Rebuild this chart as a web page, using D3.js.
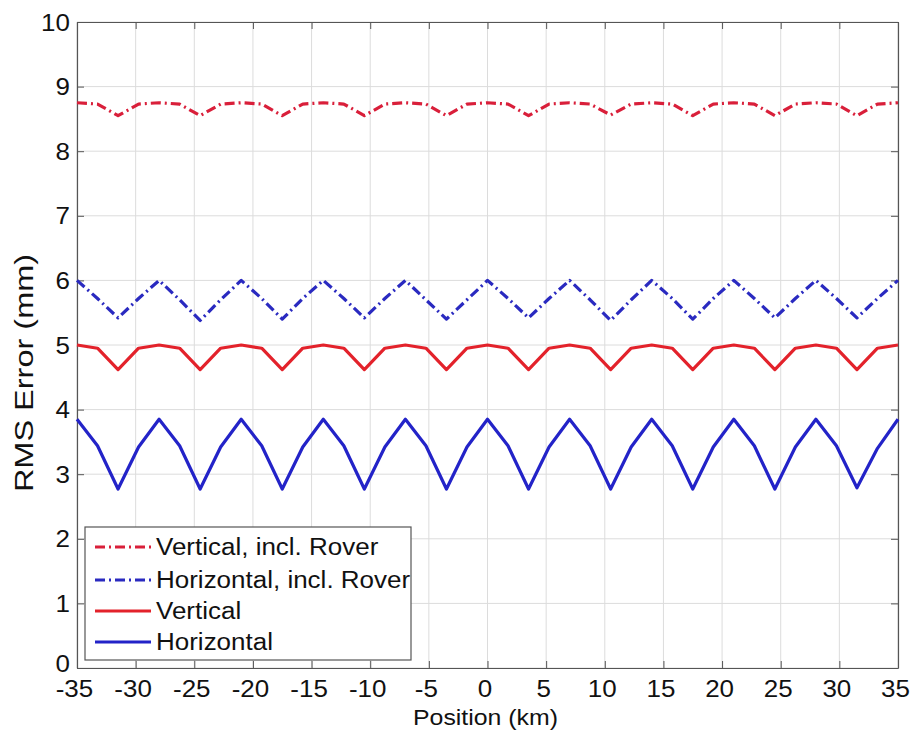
<!DOCTYPE html>
<html>
<head>
<meta charset="utf-8">
<script src="https://cdn.jsdelivr.net/npm/d3@7"></script>
<style>
  html, body { margin: 0; padding: 0; background: #fff; }
  text { font-family: "Liberation Sans", Arial, sans-serif; fill: #111; }
</style>
</head>
<body>
<svg id="chart" width="914" height="733"></svg>
<script>
// ---- data ----
const positions = [-35,-33.25,-31.5,-29.75,-28,-26.25,-24.5,-22.75,-21,-19.25,-17.5,-15.75,-14,-12.25,-10.5,-8.75,-7,-5.25,-3.5,-1.75,0,1.75,3.5,5.25,7,8.75,10.5,12.25,14,15.75,17.5,19.25,21,22.75,24.5,26.25,28,29.75,31.5,33.25,35];
const verticalRover   = [8.75,8.73,8.55,8.73,8.75,8.73,8.55,8.73,8.75,8.73,8.55,8.73,8.75,8.73,8.55,8.73,8.75,8.73,8.55,8.73,8.75,8.73,8.55,8.73,8.75,8.73,8.56,8.73,8.75,8.73,8.55,8.73,8.75,8.73,8.55,8.73,8.75,8.73,8.55,8.73,8.75];
const horizontalRover = [6.0,5.72,5.42,5.72,6.0,5.7,5.38,5.7,6.0,5.72,5.4,5.72,6.0,5.72,5.42,5.72,6.0,5.7,5.4,5.7,6.0,5.72,5.42,5.72,6.0,5.7,5.38,5.7,6.0,5.72,5.4,5.72,6.0,5.72,5.42,5.72,6.0,5.72,5.42,5.72,6.0];
const vertical        = [5.0,4.95,4.62,4.95,5.0,4.95,4.62,4.95,5.0,4.95,4.62,4.95,5.0,4.95,4.62,4.95,5.0,4.95,4.62,4.95,5.0,4.95,4.62,4.95,5.0,4.95,4.62,4.95,5.0,4.95,4.62,4.95,5.0,4.95,4.62,4.95,5.0,4.95,4.62,4.95,5.0];
const horizontal      = [3.85,3.44,2.77,3.42,3.85,3.44,2.77,3.42,3.85,3.44,2.77,3.42,3.85,3.44,2.77,3.42,3.85,3.44,2.77,3.42,3.85,3.44,2.77,3.42,3.85,3.44,2.77,3.42,3.85,3.44,2.77,3.42,3.85,3.44,2.77,3.42,3.85,3.44,2.79,3.40,3.85];
const xTicks = [-35,-30,-25,-20,-15,-10,-5,0,5,10,15,20,25,30,35];
const yTicks = [0,1,2,3,4,5,6,7,8,9,10];
const seriesNames = ["Vertical, incl. Rover","Horizontal, incl. Rover","Vertical","Horizontal"];

(function () {
// ---- layout ----
const pLeft = 77, pTop = 22, pRight = 898, pBottom = 668;
const red = "#e3222b", blue = "#2323c8", dashRed = "#d91f3a", dashBlue = "#2a2ac0";
const sx = 1.13;
const fmt = d => String(d);

const svg = d3.select("#chart");
const x = d3.scaleLinear().domain([-35, 35]).range([pLeft, pRight]);
const y = d3.scaleLinear().domain([0, 10]).range([pBottom, pTop]);

// grid
const grid = svg.append("g");
grid.selectAll("line.gx").data(xTicks).join("line").attr("class", "gx")
  .attr("x1", d => x(d)).attr("x2", d => x(d)).attr("y1", pTop).attr("y2", pBottom)
  .attr("stroke", "#dcdcdc").attr("stroke-width", 1);
grid.selectAll("line.gy").data(yTicks).join("line").attr("class", "gy")
  .attr("y1", d => y(d)).attr("y2", d => y(d)).attr("x1", pLeft).attr("x2", pRight)
  .attr("stroke", "#dcdcdc").attr("stroke-width", 1);

// axes with inward ticks
const axB = svg.append("g").attr("transform", `translate(0,${pBottom})`)
  .call(d3.axisBottom(x).tickValues(xTicks).tickFormat(fmt).tickSizeInner(-7).tickSizeOuter(0).tickPadding(0));
const axT = svg.append("g").attr("transform", `translate(0,${pTop})`)
  .call(d3.axisTop(x).tickValues(xTicks).tickSizeInner(-7).tickSizeOuter(0).tickFormat(""));
const axL = svg.append("g").attr("transform", `translate(${pLeft},0)`)
  .call(d3.axisLeft(y).tickValues(yTicks).tickFormat(fmt).tickSizeInner(-7).tickSizeOuter(0).tickPadding(0));
const axR = svg.append("g").attr("transform", `translate(${pRight},0)`)
  .call(d3.axisRight(y).tickValues(yTicks).tickSizeInner(-7).tickSizeOuter(0).tickFormat(""));
[axB, axT, axL, axR].forEach(a => {
  a.select(".domain").attr("stroke", "#555").attr("stroke-width", 1.2);
  a.selectAll(".tick line").attr("stroke", "#555").attr("stroke-width", 1);
});
axB.selectAll(".tick text")
  .attr("font-size", 23).attr("font-family", "Liberation Sans, Arial, sans-serif").attr("fill", "#111")
  .attr("y", 0).attr("dy", 0)
  .attr("transform", `translate(-3,29) scale(${sx},1)`);
axL.selectAll(".tick text")
  .attr("font-size", 23).attr("font-family", "Liberation Sans, Arial, sans-serif").attr("fill", "#111")
  .attr("x", 0).attr("dy", "0.35em")
  .attr("transform", d => `translate(-7,${d === 0 ? -5 : 0}) scale(${sx},1)`);

// lines
const line = d3.line().x((d, i) => x(positions[i])).y(d => y(d));
const series = [
  {v: verticalRover, c: dashRed, dash: "10,4,2,4"},
  {v: horizontalRover, c: dashBlue, dash: "10,4,2,4"},
  {v: vertical, c: red, dash: null},
  {v: horizontal, c: blue, dash: null}
];
const plot = svg.append("g");
series.forEach(s => {
  plot.append("path").datum(s.v).attr("d", line)
    .attr("fill", "none").attr("stroke", s.c).attr("stroke-width", 3.2)
    .attr("stroke-linejoin", "round")
    .attr("stroke-dasharray", s.dash);
});

// axis labels
svg.append("text").attr("transform", `translate(${(pLeft + pRight) / 2 - 2},725) scale(${sx},1)`)
  .attr("text-anchor", "middle").attr("font-size", 22).text("Position (km)");
svg.append("text").attr("transform", `translate(33,373) rotate(-90) scale(1.3,1)`)
  .attr("text-anchor", "middle").attr("font-size", 25).text("RMS Error (mm)");

// legend
const lg = svg.append("g");
lg.append("rect").attr("x", 85).attr("y", 527).attr("width", 326).attr("height", 133)
  .attr("fill", "#fff").attr("stroke", "#555").attr("stroke-width", 1.2);
const rowsY = [547, 580, 611, 642];
series.forEach((s, i) => {
  lg.append("line").attr("x1", 95).attr("x2", 151).attr("y1", rowsY[i]).attr("y2", rowsY[i])
    .attr("stroke", s.c).attr("stroke-width", 3.2).attr("stroke-dasharray", s.dash);
  lg.append("text").attr("transform", `translate(156,${rowsY[i] + 8}) scale(${sx},1)`)
    .attr("font-size", 23).text(seriesNames[i]);
});
})();
</script>
</body>
</html>
